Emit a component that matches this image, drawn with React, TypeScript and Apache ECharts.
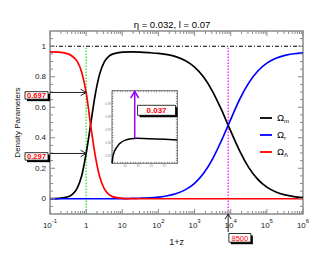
import React, { useEffect, useRef } from "react";
import * as echarts from "echarts";

const FONT = "'Liberation Sans', Arial, Helvetica, sans-serif";
const AXIS_GRAY = "#8a8a8a";

// 1+z sample positions
const onePlusZ = [0.1, 0.178, 0.316, 0.422, 0.562, 0.75, 1, 1.33, 1.78, 2.37, 3.16, 4.22, 5.62, 10, 17.8, 31.6, 56.2, 100, 178, 316, 562, 1000, 1780, 3160, 5620, 8500, 17800, 31600, 56200, 100000, 178000, 316000, 562000, 1000000];
const omegaM = [0.0004, 0.0023, 0.0128, 0.03, 0.068, 0.149, 0.297, 0.486, 0.681, 0.819, 0.896, 0.934, 0.95, 0.961, 0.963, 0.962, 0.958, 0.953, 0.945, 0.93, 0.905, 0.863, 0.798, 0.703, 0.581, 0.482, 0.312, 0.204, 0.127, 0.076, 0.044, 0.025, 0.014, 0.008];
const omegaR = [0, 0, 0, 0, 0, 0, 0, 0, 0, 0, 0, 0, 0, 0.001, 0.002, 0.0036, 0.0063, 0.0112, 0.0198, 0.0346, 0.0598, 0.1016, 0.167, 0.262, 0.384, 0.482, 0.653, 0.76, 0.838, 0.889, 0.921, 0.94, 0.951, 0.957];
const omegaL = [0.963, 0.961, 0.95, 0.933, 0.902, 0.831, 0.697, 0.484, 0.284, 0.144, 0.067, 0.029, 0.0126, 0.0023, 0.0004, 0, 0, 0, 0, 0, 0, 0, 0, 0, 0, 0, 0, 0, 0, 0, 0, 0, 0, 0];

// inset (zoom on the matter peak)
const insetOnePlusZ = [5, 5.4, 6, 6.7, 8, 9.9, 12.4, 14.3, 18.8, 25.2, 30];
const insetOmegaM = [0.944, 0.9497, 0.9535, 0.956, 0.9594, 0.9617, 0.963, 0.9633, 0.963, 0.9625, 0.962];

const xDecades = [0.1, 1, 10, 100, 1000, 10000, 100000, 1000000];
const seriesNames = ["m", "r", "Λ"];
const seriesColors = ["#000000", "#0000ff", "#ff0000"];
const seriesData = [omegaM, omegaR, omegaL];

const todayOnePlusZ = 1;
const equalityOnePlusZ = 8500;
const omegaLambdaToday = 0.697;
const omegaMatterToday = 0.297;
const peakOnePlusZ = 13.7;
const peakOmegaM = 0.963;
const verticalTop = 0.99;

const xTickData: number[][] = [];
xDecades.forEach((d, i) => {
  xTickData.push([d, 0, 5]);
  if (i < xDecades.length - 1) for (let k = 2; k <= 9; k++) xTickData.push([d * k, 0, 3]);
});
const yTickData: number[][] = [];
for (let i = -1; i <= 21; i++) {
  const v = Math.round(i * 5) / 100;
  yTickData.push([1, v, i % 4 === 0 && i >= 0 && i <= 20 ? 5 : 3]);
}

const fmtX = (v: number) => {
  const n = Math.round(Math.log10(v));
  if (n === 0) return "{b|1}";
  if (n === 1) return "{b|10}";
  return "{b|10}{sup|" + n + "}";
};
const fmtY = (v: number) => {
  const k = Math.round(v * 10);
  if (Math.abs(v * 10 - k) > 1e-6) return "";
  if (k < 0 || k > 10 || k % 2 !== 0) return "";
  if (k === 0) return "0";
  if (k === 10) return "1";
  return (k / 10).toFixed(1);
};

export default function App() {
  const ref = useRef<HTMLDivElement>(null);
  useEffect(() => {
    const el = ref.current!;
    const chart = echarts.init(el, undefined, { renderer: "svg" });
    const tickStyle = { stroke: AXIS_GRAY, lineWidth: 1 };
    const option: any = {
      animation: false,
      backgroundColor: "#ffffff",
      textStyle: { fontFamily: FONT },
      grid: [
        { left: 50, top: 31, width: 253, height: 183, show: true, borderColor: AXIS_GRAY, borderWidth: 1.5, backgroundColor: "transparent" },
        { left: 112, top: 90.7, width: 65.3, height: 72.6, show: true, borderColor: "#444", borderWidth: 0.8, backgroundColor: "#ffffff" },
      ],
      legend: {
        data: seriesNames.map((n) => ({ name: n, icon: "rect" })),
        orient: "vertical",
        left: 255,
        top: 107,
        itemWidth: 12,
        itemHeight: 1.8,
        itemGap: 5,
        formatter: (name: string) => "{o|Ω}{s|" + name + "}",
        textStyle: {
          fontFamily: FONT,
          rich: {
            o: { fontSize: 9.5, color: "#000", verticalAlign: "top", fontFamily: FONT },
            s: { fontSize: 6, color: "#000", verticalAlign: "bottom", padding: [6, 0, 0, 0], fontFamily: FONT },
          },
        },
      },
      xAxis: [
        {
          type: "log", gridIndex: 0, logBase: 10, min: 0.1, max: 1000000, splitNumber: 7,
          axisLine: { show: false }, axisTick: { show: false }, splitLine: { show: false },
          axisLabel: {
            margin: 4, color: "#222", formatter: fmtX,
            rich: {
              b: { fontSize: 8, color: "#222", verticalAlign: "bottom", padding: [3, 0, 0, 0], fontFamily: FONT },
              sup: { fontSize: 6, color: "#222", verticalAlign: "top", fontFamily: FONT },
            },
          },
          name: "1+z", nameLocation: "middle", nameGap: 23,
          nameTextStyle: { fontSize: 9, color: "#111", fontFamily: FONT },
        },
        {
          type: "value", gridIndex: 1, min: 5, max: 30, interval: 1,
          axisLine: { show: false }, splitLine: { show: false },
          axisTick: { inside: true, length: 1.5, lineStyle: { color: "#555", width: 0.5 } },
          axisLabel: { fontSize: 3, color: "#888", margin: 1, formatter: (v: number) => (v % 5 === 0 && v > 5 && v < 30 ? String(v) : "") },
        },
        {
          type: "value", gridIndex: 1, position: "top", min: 5, max: 30, interval: 1,
          axisLine: { show: false }, splitLine: { show: false }, axisLabel: { show: false },
          axisTick: { inside: true, length: 1.5, lineStyle: { color: "#555", width: 0.5 } },
        },
      ],
      yAxis: [
        {
          type: "value", gridIndex: 0, min: -0.1, max: 1.1, interval: 0.1,
          axisLine: { show: false }, axisTick: { show: false }, splitLine: { show: false },
          axisLabel: { fontSize: 8, color: "#222", margin: 4, formatter: fmtY, fontFamily: FONT },
          name: "Density Parameters", nameLocation: "middle", nameGap: 29,
          nameTextStyle: { fontSize: 8, color: "#111", fontFamily: FONT },
        },
        {
          type: "value", gridIndex: 1, min: 0.944, max: 1, interval: 0.002,
          axisLine: { show: false }, splitLine: { show: false },
          axisTick: { inside: true, length: 1.5, lineStyle: { color: "#555", width: 0.5 } },
          axisLabel: {
            fontSize: 3, color: "#888", margin: 1,
            formatter: (v: number) => {
              const k = Math.round(v * 1000);
              return k % 10 === 0 && k >= 950 && k <= 990 ? (k / 1000).toFixed(2) : "";
            },
          },
        },
        {
          type: "value", gridIndex: 1, position: "right", min: 0.944, max: 1, interval: 0.002,
          axisLine: { show: false }, splitLine: { show: false }, axisLabel: { show: false },
          axisTick: { inside: true, length: 1.5, lineStyle: { color: "#555", width: 0.5 } },
        },
      ],
      series: [
        ...seriesNames.map((n, i) => ({
          name: n, type: "line", xAxisIndex: 0, yAxisIndex: 0,
          data: onePlusZ.map((x, j) => [x, seriesData[i][j]]),
          symbol: "none", showSymbol: false, smooth: 0.3,
          lineStyle: { color: seriesColors[i], width: 1.7 },
          itemStyle: { color: seriesColors[i] }, z: 4,
        })),
        {
          name: "unity", type: "line", xAxisIndex: 0, yAxisIndex: 0,
          data: [[0.1, 1], [1000000, 1]], symbol: "none",
          lineStyle: { color: "#000", width: 1, type: [4, 2, 1, 2] }, z: 3,
        },
        {
          name: "today", type: "line", xAxisIndex: 0, yAxisIndex: 0,
          data: [[todayOnePlusZ, -0.1], [todayOnePlusZ, verticalTop]], symbol: "none",
          lineStyle: { color: "#22dd22", width: 1.2, type: [1.5, 1.5] }, z: 3,
        },
        {
          name: "equality", type: "line", xAxisIndex: 0, yAxisIndex: 0,
          data: [[equalityOnePlusZ, -0.1], [equalityOnePlusZ, verticalTop]], symbol: "none",
          lineStyle: { color: "#ff00ff", width: 1.2, type: [1.5, 1.5] }, z: 3,
        },
        {
          name: "inset", type: "line", xAxisIndex: 1, yAxisIndex: 1,
          data: insetOnePlusZ.map((x, j) => [x, insetOmegaM[j]]), symbol: "none", smooth: 0.4,
          lineStyle: { color: "#000", width: 1.5 }, z: 6,
        },
        {
          name: "xticks", type: "custom", xAxisIndex: 0, yAxisIndex: 0, silent: true, z: 7,
          data: xTickData,
          renderItem: (params: any, api: any) => {
            const cs = params.coordSys;
            const x = api.coord([api.value(0), 0])[0];
            const len = api.value(2);
            const b = cs.y + cs.height;
            const t = cs.y;
            return {
              type: "group",
              children: [
                { type: "line", shape: { x1: x, y1: b, x2: x, y2: b - len }, style: tickStyle },
                { type: "line", shape: { x1: x, y1: t, x2: x, y2: t + len }, style: tickStyle },
              ],
            };
          },
        },
        {
          name: "yticks", type: "custom", xAxisIndex: 0, yAxisIndex: 0, silent: true, z: 7,
          data: yTickData,
          renderItem: (params: any, api: any) => {
            const cs = params.coordSys;
            const y = api.coord([api.value(0), api.value(1)])[1];
            const len = api.value(2);
            const l = cs.x;
            const r = cs.x + cs.width;
            return {
              type: "group",
              children: [
                { type: "line", shape: { x1: l, y1: y, x2: l + len, y2: y }, style: tickStyle },
                { type: "line", shape: { x1: r, y1: y, x2: r - len, y2: y }, style: tickStyle },
              ],
            };
          },
        },
      ],
    };
    chart.setOption(option);

    const p0 = (x: number, y: number) => chart.convertToPixel({ xAxisIndex: 0, yAxisIndex: 0 }, [x, y]) as number[];
    const p1 = (x: number, y: number) => chart.convertToPixel({ xAxisIndex: 1, yAxisIndex: 1 }, [x, y]) as number[];

    const txt = (x: number, y: number, text: string, fontSize: number, fill: string, weight: string, z: number) => ({
      type: "text", x, y, z,
      style: {
        text, fill, fontSize, fontWeight: weight, fontFamily: FONT,
        align: "center", verticalAlign: "middle", textAlign: "center", textVerticalAlign: "middle",
      },
    });
    const box = (x: number, y: number, w: number, h: number, text: string, fs: number, weight: string) => [
      { type: "rect", z: 100, shape: { x: x + 2, y: y + 2, width: w, height: h }, style: { fill: "#000" } },
      { type: "rect", z: 101, shape: { x, y, width: w, height: h }, style: { fill: "#fff", stroke: "#000", lineWidth: 0.8 } },
      txt(x + w / 2, y + h / 2 + 0.3, text, fs, "#ff0000", weight, 102),
    ];
    const chevron = (tx: number, ty: number, dir: string, color: string, w: number, l: number, lw: number) => ({
      type: "polyline", z: 99,
      shape: {
        points: dir === "right"
          ? [[tx - l, ty - w], [tx, ty], [tx - l, ty + w]]
          : [[tx - w, ty + l], [tx, ty], [tx + w, ty + l]],
      },
      style: { stroke: color, lineWidth: lw, fill: "none" },
    });

    const elements: any[] = [];
    elements.push(txt(172, 24, "η = 0.032, l = 0.07", 9.5, "#000", "normal", 50));

    [omegaLambdaToday, omegaMatterToday].forEach((val) => {
      const a = p0(0.1, val);
      const b = p0(todayOnePlusZ, val);
      elements.push({ type: "line", z: 99, shape: { x1: a[0], y1: a[1], x2: b[0], y2: a[1] }, style: { stroke: "#222", lineWidth: 1 } });
      elements.push(chevron(b[0], a[1], "right", "#222", 3.2, 5.5, 1));
      elements.push(...box(a[0] - 25, a[1] - 0.8, 23, 7.5, val.toFixed(3), 7.5, "bold"));
    });

    const tipX = p0(equalityOnePlusZ, 0)[0];
    const tipY = p0(equalityOnePlusZ, -0.1)[1];
    elements.push({ type: "line", z: 99, shape: { x1: tipX, y1: tipY, x2: tipX, y2: tipY + 18 }, style: { stroke: "#222", lineWidth: 1 } });
    elements.push(chevron(tipX, tipY, "up", "#222", 3, 5, 1));
    elements.push(...box(tipX + 0.7, tipY + 19.5, 22, 8.7, String(equalityOnePlusZ), 7.5, "normal"));

    const base = p1(peakOnePlusZ, peakOmegaM);
    const top = p1(peakOnePlusZ, 1);
    elements.push({ type: "line", z: 99, shape: { x1: base[0], y1: base[1], x2: top[0], y2: top[1] + 0.5 }, style: { stroke: "#9900ff", lineWidth: 1.5 } });
    elements.push(chevron(top[0], top[1] + 0.8, "up", "#9900ff", 4, 6.5, 1.5));
    elements.push(...box(base[0] + 2.8, top[1] + 14.6, 38, 10, (1 - peakOmegaM).toFixed(3), 8, "bold"));

    chart.setOption({ graphic: { elements } });
    return () => chart.dispose();
  }, []);
  return (
    <div
      ref={ref}
      style={{ position: "fixed", left: 0, top: 0, width: 331, height: 267, background: "#fff" }}
    />
  );
}
